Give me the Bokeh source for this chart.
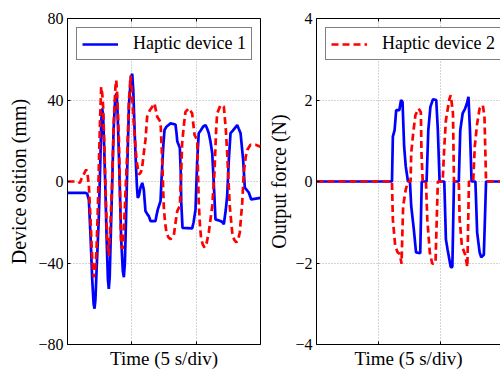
from bokeh.plotting import figure
from bokeh.layouts import row
from bokeh.models import FixedTicker, Legend, LegendItem, LinearAxis, Range1d
from bokeh.embed import file_html
from bokeh.resources import INLINE

# ---- data (time in s, 5 s per division) ----
pos1_t = [0.00, 1.40, 1.53, 1.66, 1.79, 1.92, 2.03, 2.10, 2.17, 2.27, 2.43, 2.55, 2.63, 2.70,
          2.77, 2.86, 2.95, 3.05, 3.14, 3.21, 3.28, 3.37, 3.47, 3.58, 3.70, 3.79, 3.87, 3.97,
          4.06, 4.17, 4.30, 4.38, 4.46, 4.55, 4.64, 4.78, 4.93, 5.03, 5.11, 5.20, 5.28, 5.40,
          5.46, 5.55, 5.67, 5.81, 5.93, 6.06, 6.20, 6.32, 6.45, 6.84, 6.94, 7.02, 7.23, 7.30,
          7.36, 7.45, 7.54, 7.69, 8.01, 8.39, 8.47, 8.53, 8.73, 8.80, 8.84, 8.94, 9.69, 9.80,
          9.95, 10.08, 10.20, 10.35, 10.55, 10.73, 10.85, 10.98, 11.10, 11.25, 11.40, 11.50,
          11.89, 12.05, 12.15, 12.30, 12.41, 12.55, 12.67, 12.85, 13.19, 13.30, 13.45, 13.65,
          13.78, 14.09, 14.28, 15.0]
pos1_v = [-5.6, -5.6, -6.0, -9.0, -26.7, -48.0, -60.0, -62.4, -58.0, -42.0, -18.6, 10.0, 30.0, 35.9,
          32.0, 15.0, -5.0, -30.0, -48.0, -52.7, -47.0, -25.0, -2.0, 25.0, 40.0, 43.2, 38.0, 18.0,
          -2.0, -28.0, -44.0, -47.0, -40.0, -18.0, 5.8, 38.0, 51.0, 52.9, 45.0, 28.0, 14.0, -3.0,
          -8.0, -7.0, -3.1, -0.7, -4.0, -14.5, -16.0, -17.0, -19.4, -19.4, -16.0, -13.7, -9.6, 0.0,
          7.4, 18.0, 25.3, 26.9, 28.5, 28.0, 24.0, 19.8, 16.5, 5.0, -10.0, -22.8, -23.0, -20.0,
          -13.7, 10.0, 23.7, 25.0, 27.0, 27.7, 26.0, 23.7, 20.0, 13.9, -5.0, -18.6,
          -19.4, -20.0, -21.0, -14.0, -7.0, 12.0, 23.7, 25.0, 27.7, 26.0, 23.7, 10.7,
          -3.0, -5.4, -8.8, -8.0]

pos2_t = [0.00, 0.80, 0.96, 1.10, 1.30, 1.45, 1.53, 1.66, 1.79, 1.92, 2.04, 2.14, 2.25, 2.35,
          2.43, 2.53, 2.62, 2.70, 2.77, 2.86, 2.95, 3.08, 3.21, 3.33, 3.47, 3.60, 3.72, 3.79,
          3.87, 3.99, 4.08, 4.17, 4.30, 4.42, 4.64, 4.78, 4.90, 4.98, 5.15, 5.36, 5.54, 5.70,
          5.81, 5.95, 6.06, 6.19, 6.40, 6.58, 6.76, 6.87, 6.97, 7.23, 7.36, 7.48, 7.58, 7.69,
          7.85, 8.01, 8.26, 8.40, 8.53, 8.73, 8.83, 8.91, 9.05, 9.17, 9.43, 9.69, 9.87, 10.08,
          10.20, 10.30, 10.39, 10.52, 10.65, 10.82, 10.98, 11.25, 11.42, 11.55, 11.63, 11.89,
          12.15, 12.30, 12.41, 12.61, 12.80, 12.95, 13.13, 13.28, 13.39, 13.58, 13.70, 13.85,
          13.97, 14.22, 14.61, 15.0]
pos2_v = [0.0, 0.0, -0.7, 1.5, 4.0, 5.8, 5.0, -2.0, -18.6, -38.0, -47.0, -44.0, -34.7, -15.0,
          5.8, 30.0, 46.4, 43.0, 36.7, 18.0, -2.3, -28.0, -36.4, -22.0, 0.0, 30.0, 46.0, 49.7,
          42.0, 22.0, -5.0, -31.6, -33.0, -18.0, 14.0, 40.0, 52.0, 46.0, 28.5, 10.7, 3.4, 4.5,
          7.4, 15.0, 20.4, 31.8, 35.0, 36.6, 38.3, 35.0, 31.8, 29.3, 10.7, -12.0, -20.0, -25.0,
          -27.5, -28.3, -26.7, -20.0, -14.5, -12.0, 3.0, 18.8, 28.0, 34.2, 35.9, 33.4, 22.9, 20.4,
          -10.4, -22.0, -28.3, -31.0, -32.4, -30.0, -25.0, -12.0, 4.2, 25.0, 33.4, 37.5,
          36.7, 26.0, 14.0, -12.0, -25.0, -28.5, -29.9, -28.0, -25.0, -10.4, 4.2, 12.0,
          15.5, 18.0, 18.0, 17.0]

force1_t = [0.0, 6.09, 6.16, 6.30, 6.43, 6.68, 6.82, 6.94, 7.07, 7.20, 7.38, 7.54, 7.64, 7.85,
            8.03, 8.37, 8.49, 8.88, 9.02, 9.19, 9.40, 9.66, 9.79, 9.93, 10.31, 10.44, 10.57,
            10.83, 10.96, 11.09, 11.48, 11.60, 11.79, 11.99, 12.12, 12.26, 12.38, 12.51, 12.82,
            12.96, 13.16, 13.29, 13.50, 13.68, 15.0]
force1_v = [0.0, 0.0, 1.10, 1.26, 1.75, 1.75, 2.0, 1.95, 0.86, 0.37, 0.0, 0.0, -0.6, -1.17,
            -1.74, -1.76, 0.0, 0.0, 1.26, 1.83, 2.02, 2.0, 1.26, 0.0, 0.0, -1.42, -1.66,
            -2.1, -2.1, 0.0, 0.0, 1.26, 1.67, 1.79, 1.9, 2.08, 1.26, 0.0, 0.0,
            -1.25, -1.74, -1.86, -1.8, 0.0, 0.0]

force2_t = [0.0, 6.09, 6.16, 6.35, 6.55, 6.72, 6.86, 6.99, 7.20, 7.38, 7.59, 7.64, 7.80, 7.98,
            8.24, 8.42, 8.47, 8.57, 8.83, 8.94, 9.14, 9.34, 9.60, 9.79, 10.18, 10.31, 10.44,
            10.70, 10.83, 11.01, 11.09, 11.48, 11.55, 11.73, 11.99, 12.17, 12.30, 12.64, 12.77,
            12.96, 13.16, 13.42, 13.55, 13.68, 15.0]
force2_v = [0.0, 0.0, -0.93, -1.58, -1.74, -1.78, -2.02, -0.6, -0.2, 0.0, 0.0, 0.7, 1.18, 1.63,
            1.79, 1.7, 0.7, 0.0, 0.0, -0.93, -1.74, -2.02, -2.0, 0.0, 0.0, 0.86, 1.5,
            2.0, 2.12, 1.67, 0.0, 0.0, -0.93, -1.58, -1.79, -2.1, 0.0, 0.0, 0.86,
            1.42, 1.79, 1.87, 1.6, 0.0, 0.0]

pos_ticks = [-80, -40, 0, 40, 80]
force_ticks = [-4, -2, 0, 2, 4]
time_grid = [5, 10]

FONT = "Liberation Serif"
BLUE = "#0000ff"
RED = "#ff0000"
LW = 2.7


def tick_only_axis():
    return dict(ticker=FixedTicker(ticks=[], minor_ticks=time_grid),
                major_tick_in=0, major_tick_out=0, minor_tick_in=3, minor_tick_out=0,
                minor_tick_line_color="black", axis_line_color="black",
                major_label_standoff=0)


def style(p, ylabel, yticks):
    p.background_fill_color = "white"
    p.border_fill_color = "white"
    xa = p.xaxis[0]
    for k, v in tick_only_axis().items():
        setattr(xa, k, v)
    xa.axis_label = "Time (5 s/div)"
    xa.axis_label_text_font = FONT
    xa.axis_label_text_font_style = "normal"
    xa.axis_label_text_font_size = "19px"
    xa.axis_label_text_color = "black"
    xa.axis_label_standoff = 3
    ya = p.yaxis[0]
    ya.ticker = FixedTicker(ticks=yticks)
    ya.major_tick_in = 3
    ya.major_tick_out = 0
    ya.minor_tick_in = 0
    ya.minor_tick_out = 0
    ya.axis_line_color = "black"
    ya.major_tick_line_color = "black"
    ya.major_label_text_font = FONT
    ya.major_label_text_font_size = "16px"
    ya.major_label_text_color = "black"
    ya.major_label_standoff = 4
    ya.axis_label = ylabel
    ya.axis_label_text_font = FONT
    ya.axis_label_text_font_style = "normal"
    ya.axis_label_text_font_size = "20px"
    ya.axis_label_text_color = "black"
    p.add_layout(LinearAxis(**tick_only_axis()), "above")
    p.xgrid.ticker = FixedTicker(ticks=time_grid)
    p.ygrid.ticker = FixedTicker(ticks=yticks)
    for g in p.grid:
        g.grid_line_color = "#aaaaaa"
        g.grid_line_dash = "1 2"
        g.grid_line_width = 1


def add_legend(p, renderer, label):
    leg = Legend(items=[LegendItem(label=label, renderers=[renderer])],
                 location="top_left", margin=9, padding=5, spacing=0,
                 glyph_width=36, glyph_height=20, label_standoff=15,
                 label_text_font=FONT, label_text_font_size="18px",
                 label_text_color="black",
                 border_line_color="black", border_line_width=1,
                 background_fill_color="white", background_fill_alpha=1.0)
    p.add_layout(leg)


H = 371
TOP = 18
BOTTOM = 25

# left panel: device position
p1 = figure(width=265, height=H, output_backend="svg", toolbar_location=None,
            x_range=Range1d(0, 15), y_range=Range1d(-80, 80),
            min_border_left=67, min_border_right=5, min_border_top=TOP, min_border_bottom=BOTTOM)
style(p1, "Device osition (mm)", pos_ticks)
p1.outline_line_color = "black"
p1.outline_line_width = 1
p1.outline_line_alpha = 1
b1 = p1.line(pos1_t, pos1_v, line_color=BLUE, line_width=LW)
r1 = p1.line(pos2_t, pos2_v, line_color=RED, line_width=LW, line_dash="7 4")
add_legend(p1, b1, "Haptic device 1")

# right panel: output force
frame2 = 191
p2 = figure(width=44 + frame2, height=H, output_backend="svg", toolbar_location=None,
            x_range=Range1d(0, 15 * frame2 / 193.0), y_range=Range1d(-4, 4),
            min_border_left=44, min_border_right=0, min_border_top=TOP, min_border_bottom=BOTTOM)
style(p2, "Output force (N)", force_ticks)
p2.yaxis.axis_label_standoff = 2
p2.outline_line_color = None
b2 = p2.line(force1_t, force1_v, line_color=BLUE, line_width=LW)
r2 = p2.line(force2_t, force2_v, line_color=RED, line_width=LW, line_dash="7 4")
add_legend(p2, r2, "Haptic device 2")

layout = row(p1, p2)
open("out.html", "w").write(file_html(layout, INLINE))
